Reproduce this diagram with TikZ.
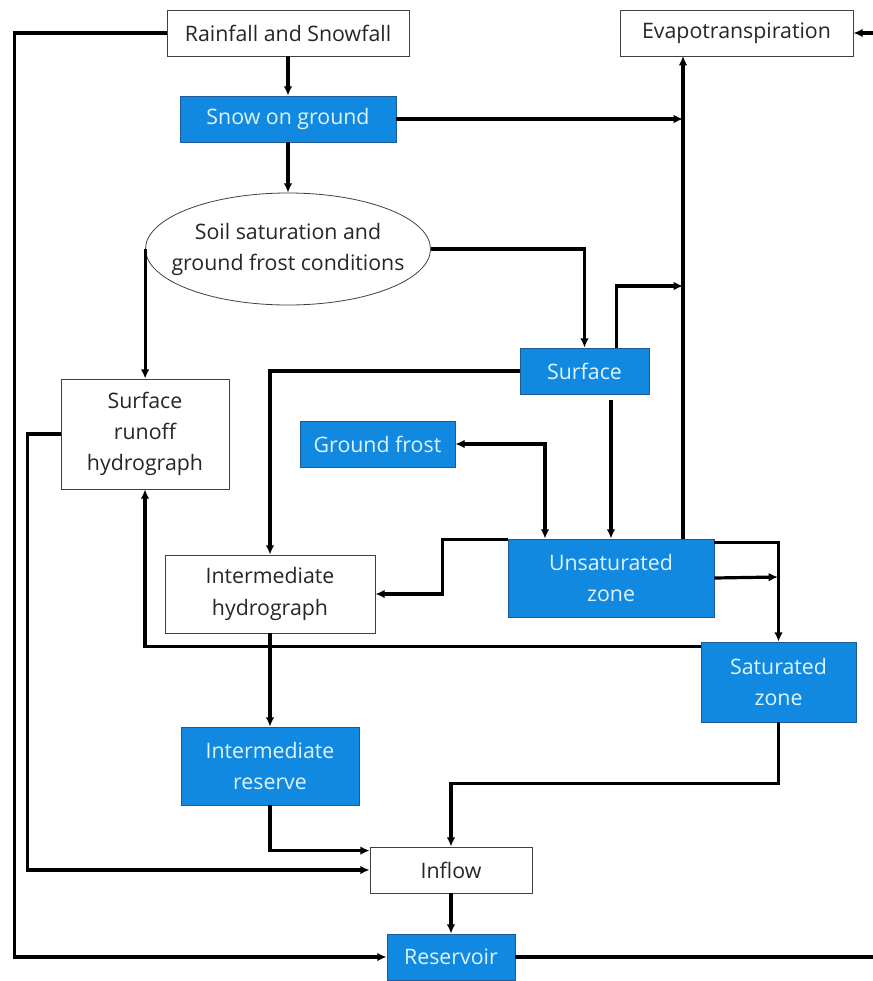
\documentclass[tikz,border=0pt]{standalone}
\usepackage{fontspec}
\setmainfont{Open Sans}
\usepackage{xcolor}
\usepackage{tikz}
\usetikzlibrary{arrows.meta}
\usetikzlibrary{shapes.geometric}
\usetikzlibrary{calc}
\definecolor{hydroblue}{RGB}{18,137,224}
\definecolor{hydroedge}{RGB}{30,90,150}
\definecolor{hydrotext}{RGB}{222,244,252}
\newcommand{\flowtip}{{Latex[length=7pt,width=6.5pt]}}
\tikzset{
  box/.style={draw=black!75,line width=0.6pt,rectangle,inner sep=0pt,align=center,font=\fontsize{16}{23.5}\selectfont},
  whitebox/.style={box,fill=white,text=black!85},
  bluebox/.style={box,draw=hydroedge,fill=hydroblue,text=hydrotext},
  flow/.style={line width=2.4pt,-\flowtip},
  twoway/.style={line width=2.4pt,\flowtip-\flowtip},
  plainline/.style={line width=2.4pt}
}

\begin{document}
\begin{tikzpicture}[x=0.75pt,y=-0.75pt]
		\useasboundingbox (0,0) rectangle (873,981);
		\node[whitebox,minimum width=242*0.75pt,minimum height=46*0.75pt] (rain) at (288,33) {Rainfall and Snowfall};
		\node[bluebox,minimum width=216*0.75pt,minimum height=46*0.75pt] (snow) at (288,119) {Snow on ground};
		\node[whitebox,minimum width=233*0.75pt,minimum height=46*0.75pt] (evapo) at (736.5,33) {Evapotranspiration};
		\node[whitebox,ellipse,minimum width=285*0.75pt,minimum height=112*0.75pt] (soil) at (288,249) {\makebox[0pt][c]{\begin{tabular}{@{}c@{}}Soil saturation and\\ground frost conditions\end{tabular}}};
		\node[whitebox,minimum width=168*0.75pt,minimum height=110*0.75pt] (runoff) at (145,434) {Surface\\runoff\\hydrograph};
		\node[bluebox,minimum width=155*0.75pt,minimum height=46*0.75pt] (gfrost) at (377.5,444) {Ground frost};
		\node[bluebox,minimum width=129*0.75pt,minimum height=46*0.75pt] (surface) at (584.5,371) {Surface};
		\node[bluebox,minimum width=206*0.75pt,minimum height=78*0.75pt] (unsat) at (611,578) {Unsaturated\\zone};
		\node[whitebox,minimum width=210*0.75pt,minimum height=78*0.75pt] (interh) at (270,594) {Intermediate\\hydrograph};
		\node[bluebox,minimum width=155*0.75pt,minimum height=80*0.75pt] (sat) at (778.5,682) {Saturated\\zone};
		\node[bluebox,minimum width=178*0.75pt,minimum height=78*0.75pt] (interr) at (270,766) {Intermediate\\reserve};
		\node[whitebox,minimum width=162*0.75pt,minimum height=46*0.75pt] (inflow) at (451,870) {Inflow};
		\node[bluebox,minimum width=128*0.75pt,minimum height=46*0.75pt] (reservoir) at (451,957) {Reservoir};
		% free ends on the evapotranspiration line and the picture edge
		\coordinate (evtop) at (683,56);
		\coordinate (evbot) at (683,539);
		\coordinate (evsnow) at (683,119);
		\coordinate (evsurf) at (683,286);
		\coordinate (satin) at (778,577);
		\coordinate (edgeR) at (873,957);
		\coordinate (edgeE) at (873,33);
		\draw[flow] (rain.west) -- ++(-152,0) |- (reservoir.west);
		\draw[flow] (rain) -- (snow);
		\draw[flow] (snow.east) -- (evsnow);
		\draw[flow] (snow) -- (soil);
		\draw[flow] (soil.west) -- (soil.west |- runoff.north);
		\draw[flow] (soil.east) -| (surface.north);
		\draw[flow] ($(surface.north)+(32,0)$) |- (evsurf);
		\draw[flow] (evbot) -- (evtop);
		\draw[flow] (surface.west) -| (interh.north);
		\draw[flow] ($(surface.south -| unsat.north)+(0,6)$) -- (unsat.north);
		\draw[twoway] (gfrost.east) -| ($(unsat.north)+(-66,0)$);
		\draw[flow] ($(unsat.north west)+(0,1)$) -- ++(-65,0) |- (interh.east);
		\draw[flow] ($(unsat.north east)+(0,4)$) -| (sat.north);
		\draw[flow] (unsat.east) -- (satin);
		\draw[flow] ($(sat.north west)+(0,5)$) -| (runoff.south);
		\draw[flow] (interh) -- (interr);
		\draw[flow] (sat.south) -- ++(0,61) -| (inflow.north);
		\draw[flow] (interr.south) |- ($(inflow.north west)+(0,4)$);
		\draw[flow] (runoff.west) -- ++(-33,0) |- (inflow.west);
		\draw[flow] (inflow) -- (reservoir);
		\draw[plainline] (reservoir.east) -- (edgeR);
		\draw[flow] (edgeE) -- (evapo.east);
\end{tikzpicture}
\end{document}
